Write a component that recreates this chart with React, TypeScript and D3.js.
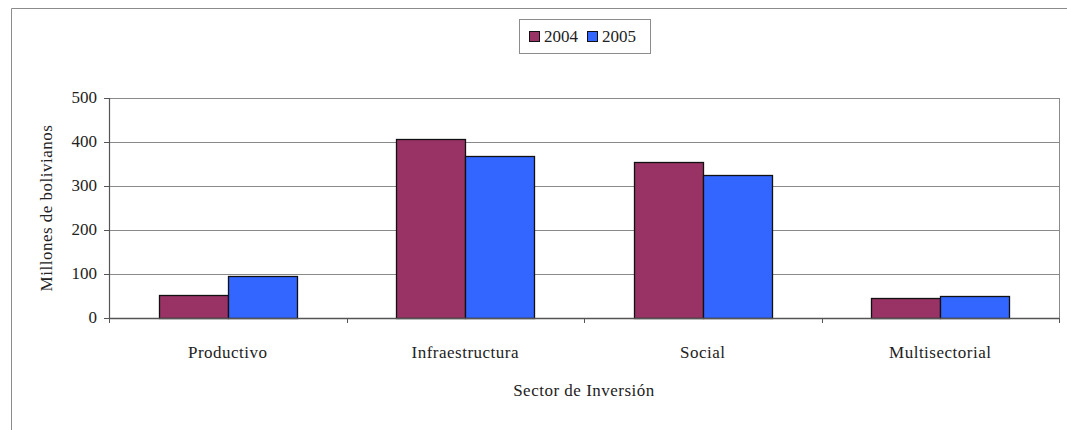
import React from "react";
import * as d3 from "d3";

const sectors = ["Productivo", "Infraestructura", "Social", "Multisectorial"];
const years = ["2004", "2005"];
const values2004 = [53, 407, 355, 45];
const values2005 = [95, 368, 324, 49];
const yTicks = [0, 100, 200, 300, 400, 500];
const yearColors = ["#993366", "#3366FF"];

const W = 1067;
const H = 430;
const plot = { left: 109, right: 1059, top: 98, bottom: 318 };
const textStyle: React.CSSProperties = {
  fontFamily: '"Liberation Serif", "DejaVu Serif", "Times New Roman", serif',
};

export default function App() {
  const x = d3.scaleBand<string>().domain(sectors).range([plot.left, plot.right]).paddingInner(0).paddingOuter(0);
  const inner = d3.scaleBand<string>().domain(years).range([0, x.bandwidth()]).paddingOuter(0.72).paddingInner(0);
  const y = d3.scaleLinear().domain([0, 500]).range([plot.bottom, plot.top]);
  const series = [values2004, values2005];
  const boundaries = d3.range(sectors.length + 1).map((i) => plot.left + i * x.bandwidth());

  return (
    <svg width={W} height={H} style={{ position: "absolute", left: 0, top: 0, background: "#fff" }}>
      {/* outer chart frame */}
      <path d={`M11.5,${H} V8.5 H${W}`} fill="none" stroke="#8c8c8c" strokeWidth={1} />

      {/* gridlines */}
      {yTicks.map((t) => (
        <line key={t} x1={plot.left} x2={plot.right} y1={Math.round(y(t)) + 0.5} y2={Math.round(y(t)) + 0.5} stroke="#8a8a8a" strokeWidth={1} />
      ))}
      {/* plot border */}
      <rect x={plot.left + 0.5} y={plot.top + 0.5} width={plot.right - plot.left} height={plot.bottom - plot.top} fill="none" stroke="#8a8a8a" />

      {/* bars */}
      {sectors.map((s, i) =>
        years.map((yr, j) => {
          const v = series[j][i];
          const bx = (x(s) as number) + (inner(yr) as number);
          return (
            <rect
              key={s + yr}
              x={Math.round(bx) + 0.5}
              y={Math.round(y(v)) + 0.5}
              width={Math.round(inner.bandwidth())}
              height={Math.round(y(0)) - Math.round(y(v))}
              fill={yearColors[j]}
              stroke="#111"
              strokeWidth={1.3}
            />
          );
        })
      )}

      {/* axes */}
      <line x1={plot.left} x2={plot.right} y1={Math.round(y(0)) + 0.5} y2={Math.round(y(0)) + 0.5} stroke="#555" strokeWidth={1.4} />
      <line x1={plot.left + 0.5} x2={plot.left + 0.5} y1={plot.top} y2={plot.bottom} stroke="#555" strokeWidth={1.2} />
      {yTicks.map((t) => (
        <g key={"yt" + t}>
          <line x1={plot.left - 5} x2={plot.left} y1={Math.round(y(t)) + 0.5} y2={Math.round(y(t)) + 0.5} stroke="#555" />
          <text x={plot.left - 12} y={y(t) + 5} textAnchor="end" style={textStyle} fontSize={17} fill="#222">
            {t}
          </text>
        </g>
      ))}
      {boundaries.map((bx, i) => (
        <line key={"xt" + i} x1={Math.round(bx) + 0.5} x2={Math.round(bx) + 0.5} y1={plot.bottom} y2={plot.bottom + 5} stroke="#555" />
      ))}
      {sectors.map((s) => (
        <text key={"xl" + s} x={(x(s) as number) + x.bandwidth() / 2} y={358} textAnchor="middle" style={textStyle} fontSize={17} fill="#222" letterSpacing={0.5}>
          {s}
        </text>
      ))}

      {/* axis titles */}
      <text x={(plot.left + plot.right) / 2} y={396} textAnchor="middle" style={textStyle} fontSize={17} fill="#222" letterSpacing={0.5}>
        Sector de Inversión
      </text>
      <text transform={`translate(52,${(plot.top + plot.bottom) / 2}) rotate(-90)`} textAnchor="middle" style={textStyle} fontSize={17} fill="#222" letterSpacing={0.5}>
        Millones de bolivianos
      </text>

      {/* legend */}
      <rect x={519.5} y={19.5} width={131} height={34} fill="#fff" stroke="#8c8c8c" />
      {years.map((yr, j) => (
        <g key={"lg" + yr} transform={`translate(${529 + j * 58},0)`}>
          <rect x={0.5} y={31.5} width={10} height={10} fill={yearColors[j]} stroke="#111" />
          <text x={15} y={42} style={textStyle} fontSize={17} fill="#222">
            {yr}
          </text>
        </g>
      ))}
    </svg>
  );
}
